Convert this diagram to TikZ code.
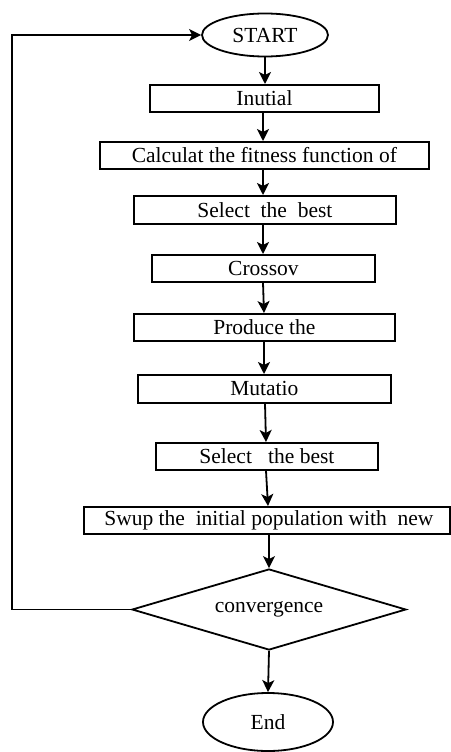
\documentclass[tikz,border=0pt]{standalone}
\usepackage{fontspec}
\setmainfont{Liberation Serif}
\usetikzlibrary{shapes.geometric,arrows.meta}
\begin{document}
\begin{tikzpicture}[x=1pt,y=-1pt,
  font=\fontsize{21.5}{23}\selectfont,
  every node/.style={line width=1.8pt,inner sep=0pt},
  box/.style={draw,rectangle,anchor=north west},
  oval/.style={draw,ellipse},
  flow/.style={line width=1.8pt,-{Stealth[length=12pt,width=12pt,inset=3pt]}}]
\useasboundingbox (0,0) rectangle (450,752);
\node[oval,minimum width=126pt,minimum height=43pt] (start) at (265,35) {START};
\node[box,minimum width=229pt,minimum height=27pt] (init) at (149,84) {};
\node at (init.center) {Inutial};
\node[box,minimum width=329pt,minimum height=27pt] (calc) at (99,141) {};
\node at (calc.center) {Calculat the fitness function of};
\node[box,minimum width=262pt,minimum height=28pt] (sel1) at (133,195) {};
\node at (sel1.center) {Select\ \ the\ \ best};
\node[box,minimum width=223pt,minimum height=27pt] (cross) at (151,254) {};
\node at (cross.center) {Crossov};
\node[box,minimum width=261pt,minimum height=27pt] (prod) at (133,313) {};
\node at (prod.center) {Produce the};
\node[box,minimum width=253pt,minimum height=28pt] (mut) at (137,374) {};
\node at (mut.center) {Mutatio};
\node[box,minimum width=222pt,minimum height=27pt] (sel2) at (155,442) {};
\node at (sel2.center) {Select\ \ \ the best};
\node[box,minimum width=366pt,minimum height=27pt] (swup) at (83,506) {};
\node at ([xshift=2pt]swup.center) {Swup the\ \ initial population with\ \ new};
\node[draw,diamond,minimum width=274pt,minimum height=81pt,aspect=3.4] (conv) at (269,609.5) {};
\node at (conv.center) {convergence};
\node[oval,minimum width=130pt,minimum height=58pt] (end) at (268,722) {End};
\coordinate (lb) at (12,609.5);
\coordinate (lt) at (start.west -| lb);
\draw[flow] (start.south) -- (init.north -| start.south);
\draw[flow] ([xshift=-2pt]init.south -| start.south) -- ([xshift=-2pt]calc.north -| start.south);
\draw[flow] (calc.south -| 263,0) -- (sel1.north -| 263,0);
\draw[flow] (sel1.south -| 263,0) -- (cross.north -| 263,0);
\draw[flow] (cross.south -| 263,0) -- (prod.north -| 264,0);
\draw[flow] (prod.south -| 264,0) -- (mut.north -| 264,0);
\draw[flow] (mut.south -| 265,0) -- (sel2.north -| 266,0);
\draw[flow] (sel2.south -| 266,0) -- (swup.north -| 268,0);
\draw[flow] (swup.south -| 269,0) -- (conv.north);
\draw[flow] (conv.south) -- (end.north);
\draw[flow] (conv.west) -- (lb) -- (lt) -- (start.west);
\end{tikzpicture}
\end{document}
